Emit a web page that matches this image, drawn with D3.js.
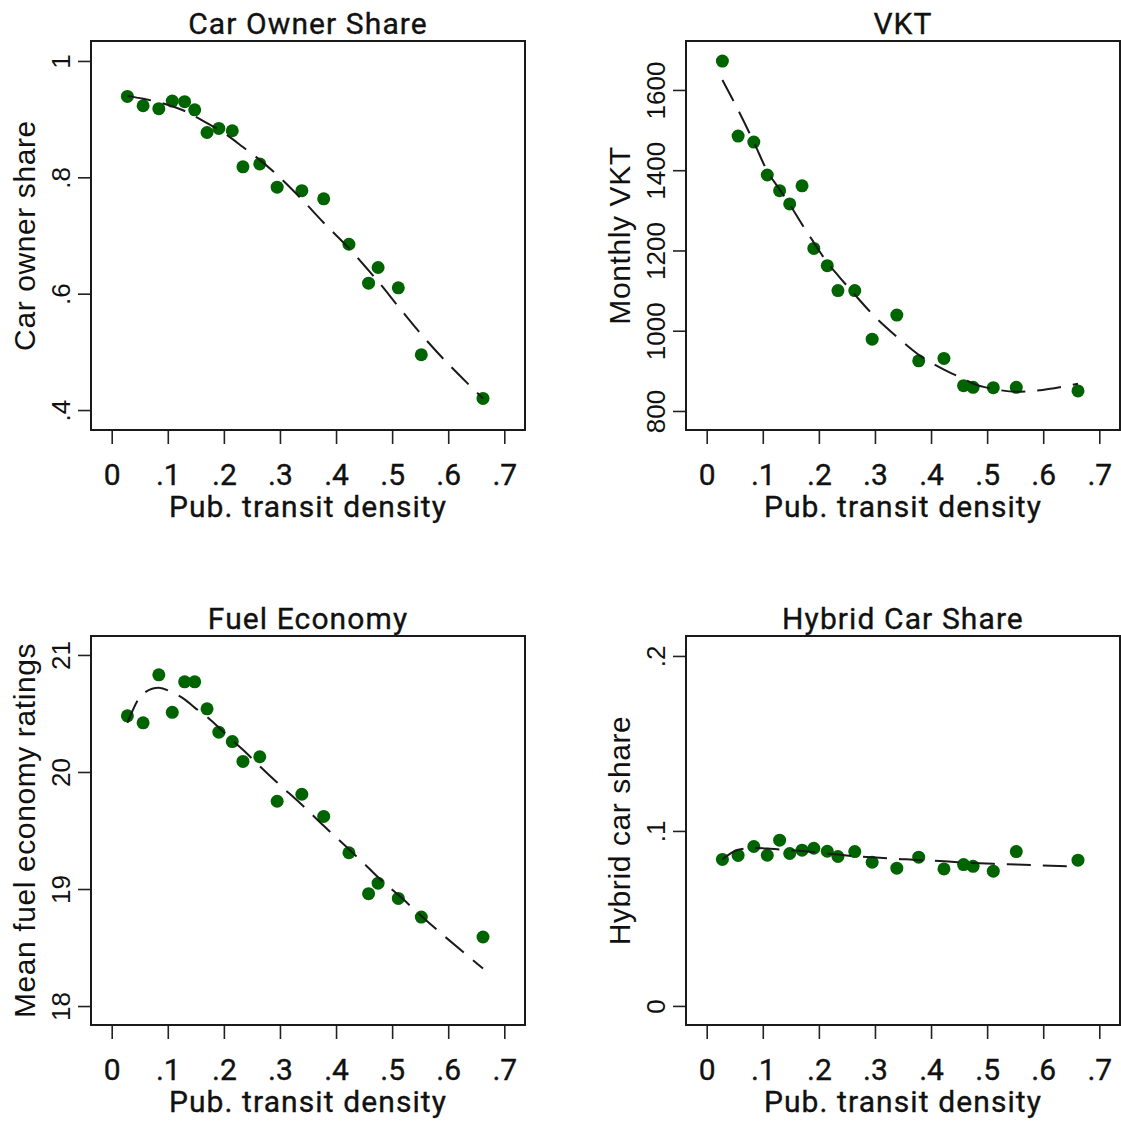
<!DOCTYPE html>
<html>
<head>
<meta charset="utf-8">
<script src="https://cdn.jsdelivr.net/npm/d3@7"></script>
<style>
  body { margin: 0; background: #fff; }
  svg { display: block; }
</style>
</head>
<body>
<svg id="chart"></svg>
<script>
// binned transit density (shared by all four panels)
var densityBins = [0.028, 0.056, 0.084, 0.108, 0.130, 0.148, 0.170, 0.191, 0.215, 0.234,
                   0.264, 0.295, 0.339, 0.378, 0.423, 0.458, 0.475, 0.511, 0.552, 0.662];

var carOwnerShare = [0.939, 0.923, 0.918, 0.931, 0.930, 0.916, 0.877, 0.884, 0.880, 0.818,
                     0.823, 0.783, 0.777, 0.763, 0.685, 0.618, 0.645, 0.610, 0.495, 0.420];
var carOwnerFit   = [0.940, 0.935, 0.929, 0.922, 0.914, 0.905, 0.893, 0.882, 0.866, 0.852,
                     0.830, 0.804, 0.762, 0.722, 0.678, 0.640, 0.621, 0.578, 0.530, 0.420];

var monthlyVkt = [1672, 1485, 1470, 1388, 1349, 1316, 1361, 1205, 1162, 1100,
                  1100, 979, 1039, 925, 931, 863, 859, 858, 859, 850];
var vktFit     = [1625, 1550, 1470, 1398, 1352, 1315, 1265, 1220, 1170, 1138,
                  1090, 1042, 985, 940, 903, 880, 868, 855, 848, 868];

var fuelEconomy = [20.48, 20.42, 20.83, 20.51, 20.77, 20.77, 20.54, 20.34, 20.26, 20.09,
                   20.13, 19.75, 19.81, 19.62, 19.31, 18.96, 19.05, 18.92, 18.76, 18.59];
var fuelFit     = [20.42, 20.67, 20.72, 20.68, 20.62, 20.55, 20.47, 20.38, 20.27, 20.19,
                   20.05, 19.91, 19.72, 19.54, 19.34, 19.18, 19.10, 18.95, 18.77, 18.32];

var hybridShare = [0.0837, 0.0860, 0.0911, 0.0861, 0.0947, 0.0871, 0.0890, 0.0901, 0.0884, 0.0854,
                   0.0882, 0.0821, 0.0787, 0.0850, 0.0783, 0.0808, 0.0798, 0.0770, 0.0882, 0.0833];
var hybridFit   = [0.0837, 0.0892, 0.0903, 0.0900, 0.0894, 0.0890, 0.0886, 0.0879, 0.0871, 0.0865,
                   0.0855, 0.0849, 0.0841, 0.0833, 0.0827, 0.0820, 0.0817, 0.0812, 0.0808, 0.0795];

var xTicks = [0, 0.1, 0.2, 0.3, 0.4, 0.5, 0.6, 0.7];
var carTicks = [0.4, 0.6, 0.8, 1];
var vktTicks = [800, 1000, 1200, 1400, 1600];
var fuelTicks = [18, 19, 20, 21];
var hybridTicks = [0, 0.1, 0.2];

var panels = [
    { title: "Car Owner Share", ylab: "Car owner share", y: carOwnerShare, fit: carOwnerFit,
      ticks: carTicks, ydom: [0.3657, 1.0343], left: 91, top: 41 },
    { title: "VKT", ylab: "Monthly VKT", y: monthlyVkt, fit: vktFit,
      ticks: vktTicks, ydom: [752.6, 1722], left: 686, top: 41 },
    { title: "Fuel Economy", ylab: "Mean fuel economy ratings", y: fuelEconomy, fit: fuelFit,
      ticks: fuelTicks, ydom: [17.838, 21.162], left: 91, top: 636 },
    { title: "Hybrid Car Share", ylab: "Hybrid car share", y: hybridShare, fit: hybridFit,
      ticks: hybridTicks, ydom: [-0.0109, 0.2114], left: 686, top: 636 }
];

var settings = {
    width: 1121,
    height: 1121,
    frameW: 434,
    frameH: 389,
    pad: 20.7
};

var titleFont = "Roboto, 'DejaVu Sans', sans-serif";
var axisFont = "'Liberation Sans', Arial, sans-serif";

var svg = d3.select("#chart")
    .attr("width", settings.width)
    .attr("height", settings.height);

// ".5" style labels, no leading zero
function fmt(d) {
    if (d === 0) return "0";
    return String(d).replace(/^0\./, ".");
}

function titleStyle(sel) {
    sel.style("font-family", titleFont)
        .style("font-size", "30px")
        .style("letter-spacing", "1.1px")
        .attr("stroke", "#111")
        .attr("stroke-width", 0.35)
        .attr("fill", "#111");
}

panels.forEach(function (p) {
    var right = p.left + settings.frameW;
    var bottom = p.top + settings.frameH;

    var x = d3.scaleLinear()
        .domain([0, 0.7])
        .range([p.left + settings.pad, right - settings.pad]);
    var y = d3.scaleLinear()
        .domain(p.ydom)
        .range([bottom, p.top]);

    var g = svg.append("g");

    // panel title
    g.append("text")
        .attr("x", p.left + settings.frameW / 2)
        .attr("y", p.top - 7)
        .attr("text-anchor", "middle")
        .call(titleStyle)
        .text(p.title);

    // x axis
    var xAxis = g.append("g")
        .attr("transform", "translate(0," + (bottom + 1) + ")")
        .call(d3.axisBottom(x).tickValues(xTicks).tickSize(13).tickFormat(fmt));
    xAxis.select(".domain").remove();
    xAxis.selectAll(".tick line").attr("stroke", "#222").attr("stroke-width", 1.6);
    xAxis.selectAll(".tick text")
        .attr("y", 54)
        .attr("dy", null)
        .call(titleStyle)
        .style("letter-spacing", null);

    g.append("text")
        .attr("x", p.left + settings.frameW / 2)
        .attr("y", bottom + 87)
        .attr("text-anchor", "middle")
        .call(titleStyle)
        .text("Pub. transit density");

    // y axis, labels turned upright along the axis
    var yAxis = g.append("g")
        .attr("transform", "translate(" + (p.left - 1) + ",0)")
        .call(d3.axisLeft(y).tickValues(p.ticks).tickSize(12).tickFormat(fmt));
    yAxis.select(".domain").remove();
    yAxis.selectAll(".tick line").attr("stroke", "#222").attr("stroke-width", 1.6);
    yAxis.selectAll(".tick text")
        .attr("x", null)
        .attr("dy", null)
        .attr("text-anchor", "middle")
        .attr("transform", "translate(-20,0) rotate(-90)")
        .attr("fill", "#111")
        .style("font-family", axisFont)
        .style("font-size", "26px");

    g.append("text")
        .attr("transform", "translate(" + (p.left - 56) + "," + (p.top + settings.frameH / 2) + ") rotate(-90)")
        .attr("text-anchor", "middle")
        .style("font-family", axisFont)
        .style("font-size", "30px")
        .style("letter-spacing", "0.6px")
        .attr("fill", "#111")
        .text(p.ylab);

    // plot frame
    g.append("rect")
        .attr("x", p.left)
        .attr("y", p.top)
        .attr("width", settings.frameW)
        .attr("height", settings.frameH)
        .attr("fill", "none")
        .attr("stroke", "#1a1a1a")
        .attr("stroke-width", 2);

    var pts = densityBins.map(function (d, i) { return { x: d, y: p.y[i], fit: p.fit[i] }; });

    g.append("g")
        .selectAll("circle")
        .data(pts)
        .enter()
        .append("circle")
        .attr("cx", function (d) { return x(d.x); })
        .attr("cy", function (d) { return y(d.y); })
        .attr("r", 6.5)
        .attr("fill", "#006400");

    var line = d3.line()
        .x(function (d) { return x(d.x); })
        .y(function (d) { return y(d.fit); })
        .curve(d3.curveMonotoneX);

    g.append("path")
        .datum(pts)
        .attr("d", line)
        .attr("fill", "none")
        .attr("stroke", "#1a1a1a")
        .attr("stroke-width", 2)
        .attr("stroke-dasharray", "24 12");
});
</script>
</body>
</html>
